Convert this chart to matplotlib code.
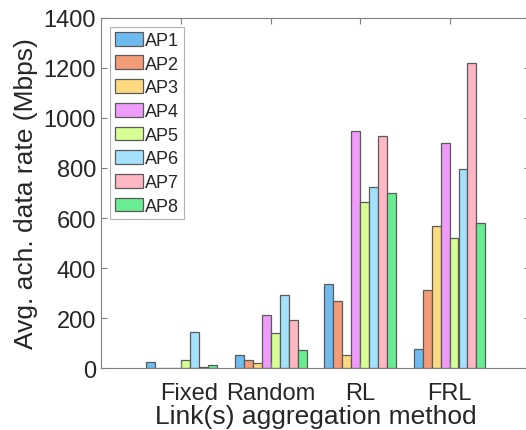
import matplotlib
matplotlib.use("Agg")
import matplotlib.pyplot as plt
import matplotlib.transforms as mtransforms
import numpy as np

plt.rcParams['font.family'] = ['Liberation Sans', 'DejaVu Sans']

methods = ["Fixed", "Random", "RL", "FRL"]
ap_names = ["AP1", "AP2", "AP3", "AP4", "AP5", "AP6", "AP7", "AP8"]
fixed_vals = [24, 1, 0.5, 1, 33, 144, 5, 14]
random_vals = [52, 33, 22, 214, 142, 292, 192, 72]
rl_vals = [337, 270, 54, 948, 665, 724, 928, 700]
frl_vals = [77, 313, 568, 900, 520, 796, 1220, 580]
yticks = [0, 200, 400, 600, 800, 1000, 1200, 1400]

colors = ["#6FBBF0", "#F49C78", "#FFD97F", "#EE9BFA", "#D7FF94",
          "#A3E1FD", "#FFB7C3", "#6AEC92"]

data = np.array([fixed_vals, random_vals, rl_vals, frl_vals])

W, H = 526, 431
fig = plt.figure(figsize=(W / 100, H / 100), dpi=100)
left, right, top, bottom = 101, 530, 18.7, 369.3
ax = fig.add_axes([left / W, (H - bottom) / H, (right - left) / W, (bottom - top) / H])

x = np.arange(1, len(methods) + 1)
bw = 0.1
for i, name in enumerate(ap_names):
    ax.bar(x + (i - 3.5) * bw, data[:, i], width=bw, color=colors[i],
           edgecolor="#5a5a5a", linewidth=0.9, label=name)

ax.set_xlim(0.1, 4.9)
ax.set_ylim(0, 1400)
ax.set_yticks(yticks)
ax.set_xticks(x)
ax.set_xticklabels(methods)
ax.tick_params(axis='both', direction='in', labelsize=17, colors='#808080',
               labelcolor='#262626', length=4, width=0.8, top=True, right=True)
ax.tick_params(axis='x', pad=10)
for s in ax.spines.values():
    s.set_color('#808080')
    s.set_linewidth(0.8)

# first category label sits slightly right of its group in the reference
lbl0 = ax.get_xticklabels()[0]
lbl0.set_transform(lbl0.get_transform() +
                   mtransforms.ScaledTranslation(8 / 100, 0, fig.dpi_scale_trans))

ax.set_xlabel("Link(s) aggregation method", fontsize=19, color='#262626', labelpad=0)
ax.set_ylabel("Avg. ach. data rate (Mbps)", fontsize=19, color='#262626', labelpad=4)

leg = ax.legend(loc='upper left', bbox_to_anchor=(110 / W, 1 - 28.3 / H),
                bbox_transform=fig.transFigure, fontsize=13, frameon=True,
                fancybox=False, edgecolor='#a0a0a0', borderaxespad=0,
                handlelength=1.55, handleheight=0.8, handletextpad=0.15,
                labelspacing=0.36, borderpad=0.25)
leg.get_frame().set_linewidth(0.8)
for t in leg.get_texts():
    t.set_color('#262626')

fig.savefig("out.png", dpi=100)
